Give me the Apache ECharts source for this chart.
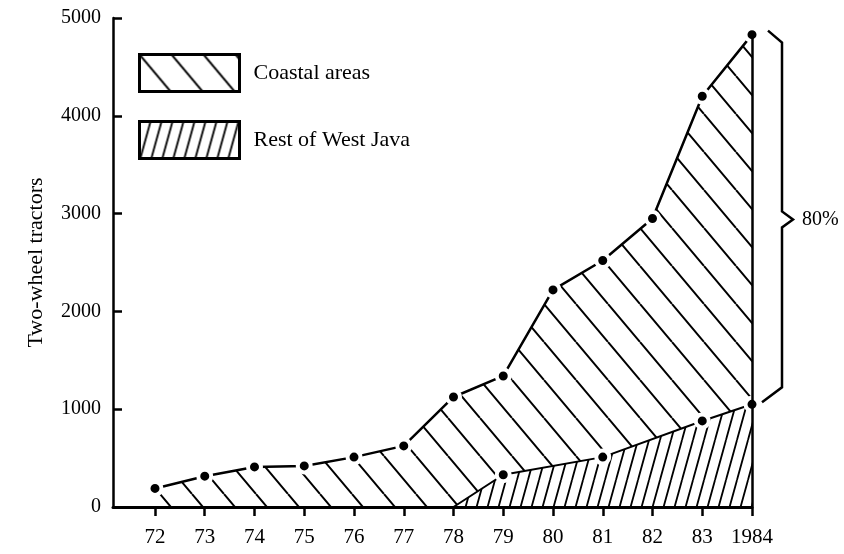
<!DOCTYPE html>
<html>
<head>
<meta charset="utf-8">
<script src="https://cdn.jsdelivr.net/npm/echarts@6/dist/echarts.min.js"></script>
<style>
html,body{margin:0;padding:0;background:#fff;}
#chart{width:844px;height:554px;}
</style>
</head>
<body>
<div id="chart"></div>
<script>
// ---- data ----
const years = [72, 73, 74, 75, 76, 77, 78, 79, 80, 81, 82, 83, 84];
const yearLabels = ['72', '73', '74', '75', '76', '77', '78', '79', '80', '81', '82', '83', '1984'];
// upper boundary (coastal areas stacked on rest of West Java = total)
const coastalTopValues = [190, 315, 410, 420, 510, 625, 1125, 1340, 2220, 2520, 2950, 4200, 4830];
// rest of West Java (lower boundary)
const restYears = [78, 79, 81, 83, 84];
const restValues = [0, 330, 510, 880, 1050];
const seriesNames = ['Coastal areas', 'Rest of West Java'];
const yAxisName = 'Two-wheel tractors';
const shareLabel = '80%';

const FONT = 'Liberation Serif';

function hatch(w, h, dir, lw) {
  const c = document.createElement('canvas');
  c.width = w; c.height = h;
  const g = c.getContext('2d');
  g.fillStyle = '#fff';
  g.fillRect(0, 0, w, h);
  g.strokeStyle = '#000';
  g.lineWidth = lw;
  g.beginPath();
  for (let k = -1; k <= 1; k++) {
    if (dir === 'back') { g.moveTo(k * w, 0); g.lineTo(k * w + w, h); }
    else { g.moveTo(k * w, h); g.lineTo(k * w + w, 0); }
  }
  g.stroke();
  return c;
}
const patCoastal = { image: hatch(32, 38, 'back', 2), repeat: 'repeat' };
const patRest = { image: hatch(11, 40, 'fwd', 1.8), repeat: 'repeat' };

const chart = echarts.init(document.getElementById('chart'), null, { renderer: 'canvas' });

const topData = years.map((y, i) => [y, coastalTopValues[i]]);
const restData = restYears.map((y, i) => {
  const item = { value: [y, restValues[i]] };
  if (restValues[i] === 0) item.symbol = 'none';
  return item;
});

const option = {
  animation: false,
  backgroundColor: '#fff',
  grid: { left: 113, right: 92, top: 18, bottom: 47, containLabel: false },
  legend: {
    orient: 'vertical',
    left: 138, top: 53,
    padding: 0,
    itemWidth: 100, itemHeight: 37, itemGap: 27,
    icon: 'rect',
    selectedMode: false,
    textStyle: { fontFamily: FONT, fontSize: 22, color: '#000', padding: [0, 0, 0, 9] },
    data: [
      { name: seriesNames[0], itemStyle: { color: patCoastal, borderColor: '#000', borderWidth: 3 } },
      { name: seriesNames[1], itemStyle: { color: patRest, borderColor: '#000', borderWidth: 3 } }
    ]
  },
  xAxis: {
    type: 'value',
    min: 72 - 42 / 49.75,
    max: 84,
    z: 5,
    axisLine: { show: true, onZero: false, lineStyle: { color: '#000', width: 3 } },
    axisTick: { show: true, customValues: years, length: 9, lineStyle: { color: '#000', width: 2.5 } },
    axisLabel: {
      customValues: years,
      formatter: v => yearLabels[years.indexOf(Math.round(v))] || '',
      fontFamily: FONT, fontSize: 21, color: '#000', margin: 20
    },
    splitLine: { show: false }
  },
  yAxis: {
    type: 'value',
    min: 0, max: 5000, interval: 1000,
    z: 5,
    name: yAxisName,
    nameLocation: 'middle',
    nameGap: 66,
    nameTextStyle: { fontFamily: FONT, fontSize: 22, color: '#000' },
    axisLine: { show: true, lineStyle: { color: '#000', width: 2.5 } },
    axisTick: { show: true, inside: true, length: 9, lineStyle: { color: '#000', width: 2.5 } },
    axisLabel: { fontFamily: FONT, fontSize: 20, color: '#000', margin: 12, formatter: v => String(v) },
    splitLine: { show: false }
  },
  series: [
    {
      name: seriesNames[0],
      type: 'line',
      data: topData,
      symbol: 'circle',
      symbolSize: 13,
      itemStyle: { color: '#000', borderColor: '#fff', borderWidth: 4 },
      lineStyle: { color: '#000', width: 2.5 },
      areaStyle: { color: patCoastal, opacity: 1, origin: 'start' },
      z: 2,
      markLine: {
        silent: true,
        symbol: 'none',
        label: { show: false },
        lineStyle: { color: '#000', width: 2.5, type: 'solid' },
        data: [[{ coord: [84, 0] }, { coord: [84, coastalTopValues[coastalTopValues.length - 1]] }]]
      }
    },
    {
      name: seriesNames[1],
      type: 'line',
      data: restData,
      symbol: 'circle',
      symbolSize: 13,
      itemStyle: { color: '#000', borderColor: '#fff', borderWidth: 4 },
      lineStyle: { color: '#000', width: 2 },
      areaStyle: { color: patRest, opacity: 1, origin: 'start' },
      z: 3
    }
  ]
};
chart.setOption(option);

// brace + 80% annotation positioned from the axis scales
function drawBrace() {
  const topV = coastalTopValues[coastalTopValues.length - 1];
  const botV = restValues[restValues.length - 1];
  const pT = chart.convertToPixel({ gridIndex: 0 }, [84, topV]);
  const pB = chart.convertToPixel({ gridIndex: 0 }, [84, botV]);
  const px = pT[0], yT = pT[1], yB = pB[1], mid = (yT + yB) / 2;
  chart.setOption({
    graphic: [
      {
        type: 'polyline', silent: true, z: 10,
        shape: { points: [
          [px + 16, yT - 4], [px + 30, yT + 8], [px + 30, mid - 8], [px + 41, mid],
          [px + 30, mid + 8], [px + 30, yB - 17], [px + 10, yB - 2]
        ] },
        style: { stroke: '#000', lineWidth: 2.5, fill: null }
      },
      {
        type: 'text', silent: true, z: 10,
        x: px + 50, y: mid,
        style: { text: shareLabel, fontFamily: FONT, fontSize: 20, fill: '#000', verticalAlign: 'middle', align: 'left' }
      }
    ]
  });
}
drawBrace();
</script>
</body>
</html>
